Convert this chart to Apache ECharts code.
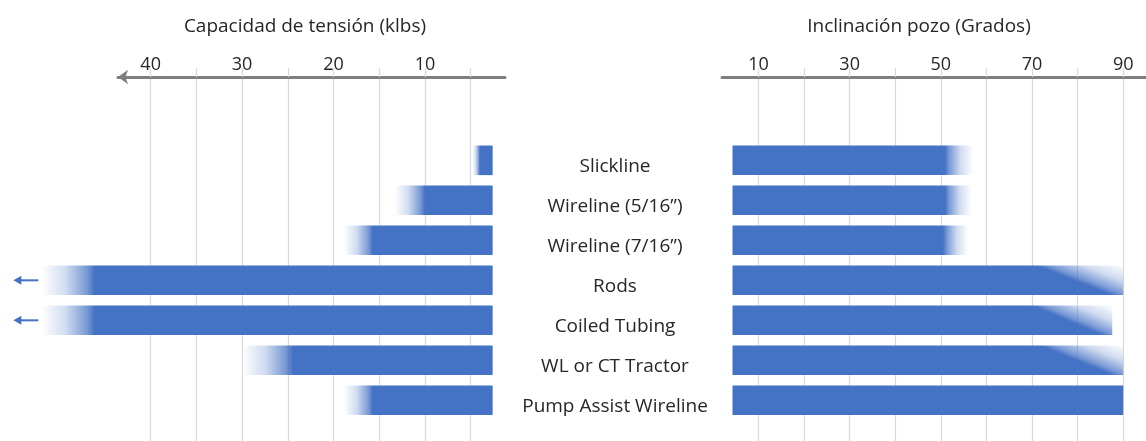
<!DOCTYPE html>
<html>
<head>
<meta charset="utf-8">
<script src="https://cdn.jsdelivr.net/npm/echarts@6/dist/echarts.min.js"></script>
<style>
  html, body { margin: 0; padding: 0; background: #ffffff; }
  #chart { width: 1146px; height: 441px; }
</style>
</head>
<body>
<div id="chart"></div>
<script>
// Conveyance methods, top to bottom
const tools = ['Slickline', 'Wireline (5/16”)', 'Wireline (7/16”)', 'Rods', 'Coiled Tubing', 'WL or CT Tractor', 'Pump Assist Wireline'];

// Tension capacity (klbs): solid up to tensionSolid, fading out up to tensionMax
const tensionBase = 2.6;
const tensionSolid = [4.0, 10.0, 15.7, 46.1, 46.1, 24.4, 15.7];
const tensionMax = [4.8, 13.3, 18.9, 51.9, 51.9, 30.0, 18.9];
const tensionTicks = [5, 10, 15, 20, 25, 30, 35, 40];
const tensionLabels = [10, 20, 30, 40];
const openEndedTools = ['Rods', 'Coiled Tubing'];

// Well inclination (degrees): solid up to inclinationSolid, fading out up to inclinationMax
const inclinationBase = 4.3;
const inclinationSolid = [50.9, 50.9, 50.5, 70.9, 70.0, 71.8, 90];
const inclinationMax = [57.1, 56.8, 56.0, 90, 87.6, 90, 90];
const inclinationTicks = [10, 20, 30, 40, 50, 60, 70, 80, 90];
const inclinationLabels = [10, 30, 50, 70, 90];
const taperedTools = ['Rods', 'Coiled Tubing', 'WL or CT Tractor'];

const FONT = '"Open Sans", "Noto Sans", sans-serif';
const TEXT = '#262626';
const GRID_LINE = '#d9d9d9';
const AXIS_LINE = '#7f7f7f';
const blue = a => 'rgba(68,114,196,' + a + ')';

// Stops running from transparent (offset 0) to full colour at offset t
function fadeStops(t) {
  return [
    { offset: 0, color: blue(0) },
    { offset: t * 0.45, color: blue(0.25) },
    { offset: t * 0.85, color: blue(0.72) },
    { offset: t, color: blue(1) },
    { offset: 1, color: blue(1) }
  ];
}

const tensionData = tools.map((name, i) => [i, tensionBase, tensionSolid[i], tensionMax[i], openEndedTools.includes(name) ? 1 : 0]);
const inclinationData = tools.map((name, i) => [i, inclinationBase, inclinationSolid[i], inclinationMax[i], taperedTools.includes(name) ? 1 : 0]);

const BAR_FRACTION = 0.74;

function renderTension(params, api) {
  const row = api.value(0);
  const pBase = api.coord([api.value(1), row]);
  const pSolid = api.coord([api.value(2), row]);
  const pEnd = api.coord([api.value(3), row]);
  const h = api.size([0, 1])[1] * BAR_FRACTION;
  const x0 = pEnd[0];
  const w = pBase[0] - x0;
  const t = (pSolid[0] - x0) / w;
  const cy = pBase[1];
  const children = [{
    type: 'rect',
    shape: { x: x0, y: cy - h / 2, width: w, height: h },
    style: { fill: new echarts.graphic.LinearGradient(0, 0, 1, 0, fadeStops(t)) }
  }];
  if (api.value(4)) {
    // arrow: the capacity continues beyond the axis
    const right = x0 - 3.5;
    const tip = right - 25;
    children.push({
      type: 'line',
      shape: { x1: tip + 5, y1: cy, x2: right, y2: cy },
      style: { stroke: blue(1), lineWidth: 2 }
    });
    children.push({
      type: 'polygon',
      shape: { points: [[tip, cy], [tip + 8, cy - 4.5], [tip + 8, cy + 4.5]] },
      style: { fill: blue(1) }
    });
  }
  return { type: 'group', children: children };
}

function renderInclination(params, api) {
  const row = api.value(0);
  const pBase = api.coord([api.value(1), row]);
  const pSolid = api.coord([api.value(2), row]);
  const pEnd = api.coord([api.value(3), row]);
  const h = api.size([0, 1])[1] * BAR_FRACTION;
  const x0 = pBase[0];
  const w = pEnd[0] - x0;
  const top = pBase[1] - h / 2;
  let fill;
  if (pSolid[0] >= pEnd[0]) {
    fill = blue(1);
  } else if (api.value(4)) {
    // diagonal taper toward the upper-right corner
    const xs = pSolid[0];
    const W = pEnd[0] - xs;
    const dx = 0.87 * W;
    const d2 = dx * dx + h * h;
    const len = W * h / d2;
    const gx = xs + h * len;
    const gy = top - dx * len;
    fill = new echarts.graphic.LinearGradient(gx, gy, xs, top, fadeStops(1), true);
  } else {
    const t = (pEnd[0] - pSolid[0]) / w;
    fill = new echarts.graphic.LinearGradient(1, 0, 0, 0, fadeStops(t));
  }
  return {
    type: 'rect',
    shape: { x: x0, y: top, width: w, height: h },
    style: { fill: fill }
  };
}

const rowAxis = {
  type: 'value',
  inverse: true,
  min: -2.083,
  max: 7.017
};

const chart = echarts.init(document.getElementById('chart'), null, { renderer: 'canvas' });

chart.setOption({
  animation: false,
  backgroundColor: '#ffffff',
  textStyle: { fontFamily: FONT },
  graphic: [
    {
      type: 'text', x: 305, y: 27,
      style: { text: 'Capacidad de tensión (klbs)', align: 'center', verticalAlign: 'middle', fontSize: 19, fontFamily: FONT, fill: TEXT }
    },
    {
      type: 'text', x: 919, y: 27,
      style: { text: 'Inclinación pozo (Grados)', align: 'center', verticalAlign: 'middle', fontSize: 19, fontFamily: FONT, fill: TEXT }
    }
  ],
  grid: [
    { left: 118, right: 641, top: 77, bottom: 0 },
    { left: 722, right: 0, top: 77, bottom: 0 }
  ],
  xAxis: [
    {
      gridIndex: 0, type: 'value', position: 'top', inverse: true,
      min: 1.25, max: 43.57,
      axisLine: { show: true, onZero: false, symbol: ['arrow', 'none'], symbolSize: [11, 10], lineStyle: { color: AXIS_LINE, width: 3 } },
      axisTick: { show: true, customValues: tensionTicks, length: 9, lineStyle: { color: GRID_LINE, width: 1.2 } },
      axisLabel: { customValues: tensionLabels, margin: 3, fontSize: 18, color: TEXT, fontFamily: FONT },
      splitLine: { show: true, lineStyle: { color: GRID_LINE, width: 1.2 } }
    },
    {
      gridIndex: 1, type: 'value', position: 'top',
      min: 2, max: 95,
      axisLine: { show: true, onZero: false, lineStyle: { color: AXIS_LINE, width: 3 } },
      axisTick: { show: true, customValues: inclinationTicks, length: 9, lineStyle: { color: GRID_LINE, width: 1.2 } },
      axisLabel: { customValues: inclinationLabels, margin: 3, fontSize: 18, color: TEXT, fontFamily: FONT },
      splitLine: { show: true, lineStyle: { color: GRID_LINE, width: 1.2 } }
    }
  ],
  yAxis: [
    Object.assign({ gridIndex: 0, show: false }, rowAxis),
    Object.assign({
      gridIndex: 1,
      axisLine: { show: false },
      axisTick: { show: false },
      splitLine: { show: false },
      axisLabel: {
        customValues: tools.map((_, i) => i),
        formatter: v => '{t|' + tools[Math.round(v)] + '}',
        align: 'center',
        margin: 107,
        rich: {
          t: { fontSize: 19, color: TEXT, fontFamily: FONT, padding: [13, 0, 0, 0] }
        }
      }
    }, rowAxis)
  ],
  series: [
    {
      type: 'custom',
      name: 'Capacidad de tensión',
      xAxisIndex: 0, yAxisIndex: 0,
      clip: false,
      encode: { x: [1, 2, 3], y: 0 },
      data: tensionData,
      renderItem: renderTension
    },
    {
      type: 'custom',
      name: 'Inclinación pozo',
      xAxisIndex: 1, yAxisIndex: 1,
      clip: false,
      encode: { x: [1, 2, 3], y: 0 },
      data: inclinationData,
      renderItem: renderInclination
    }
  ]
});
</script>
</body>
</html>
